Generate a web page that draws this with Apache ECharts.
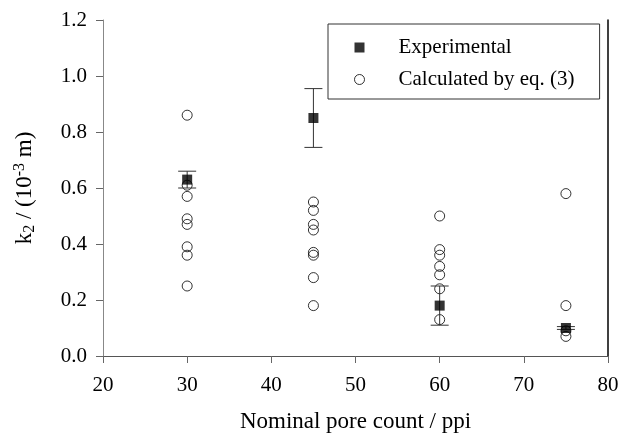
<!DOCTYPE html>
<html>
<head>
<meta charset="utf-8">
<script src="https://cdn.jsdelivr.net/npm/echarts@6/dist/echarts.min.js"></script>
<style>
  html, body { margin: 0; padding: 0; background: #fff; }
  #chart { width: 629px; height: 435px; }
</style>
</head>
<body>
<div id="chart"></div>
<script>
// pore counts (ppi)
var poreCounts = [30, 45, 60, 75];

// experimental k2 with error bar limits
var expValues = [0.63, 0.85, 0.18, 0.10];
var expLow = [0.60, 0.745, 0.11, 0.095];
var expHigh = [0.66, 0.955, 0.25, 0.105];

// calculated by eq. (3), one list per pore count
var calc30 = [0.86, 0.61, 0.57, 0.49, 0.47, 0.39, 0.36, 0.25];
var calc45 = [0.55, 0.52, 0.47, 0.45, 0.37, 0.36, 0.28, 0.18];
var calc60 = [0.50, 0.38, 0.36, 0.32, 0.29, 0.24, 0.13];
var calc75 = [0.58, 0.18, 0.09, 0.07];

var font = 'Liberation Serif';

var calcData = [];
[calc30, calc45, calc60, calc75].forEach(function (list, i) {
  list.forEach(function (v) {
    calcData.push([poreCounts[i], v]);
  });
});

var expData = poreCounts.map(function (x, i) { return [x, expValues[i]]; });
var errData = poreCounts.map(function (x, i) { return [x, expLow[i], expHigh[i]]; });

var chart = echarts.init(document.getElementById('chart'));

chart.setOption({
  animation: false,
  backgroundColor: '#fff',
  grid: { left: 103, right: 21, top: 20, bottom: 79, outerBoundsMode: 'none', containLabel: false },
  legend: {
    orient: 'vertical',
    left: 328,
    top: 24,
    padding: [13, 25, 9, 26],
    itemGap: 11,
    itemWidth: 10,
    itemHeight: 10,
    borderColor: '#333',
    borderWidth: 1,
    borderRadius: 0,
    textStyle: { fontFamily: font, fontSize: 21, color: '#000', padding: [0, 0, 0, 29] },
    data: [
      { name: 'Experimental', icon: 'rect' },
      { name: 'Calculated by eq. (3)', icon: 'circle', itemStyle: { color: '#fff', borderColor: '#000', borderWidth: 1 } }
    ]
  },
  xAxis: [{
    type: 'value',
    min: 20,
    max: 80,
    interval: 10,
    name: 'Nominal pore count / ppi',
    nameLocation: 'middle',
    nameGap: 54,
    nameTextStyle: { fontFamily: font, fontSize: 23, color: '#000' },
    axisLine: { lineStyle: { color: '#888', width: 1 } },
    axisTick: { show: true, length: 7, lineStyle: { color: '#666' } },
    axisLabel: { fontFamily: font, fontSize: 21, color: '#000', margin: 19 },
    splitLine: { show: false }
  }, {
    type: 'value',
    position: 'top',
    min: 20,
    max: 80,
    axisLine: { show: true, lineStyle: { color: '#555', width: 1 } },
    axisTick: { show: false },
    axisLabel: { show: false },
    splitLine: { show: false }
  }],
  yAxis: [{
    type: 'value',
    min: 0,
    max: 1.2,
    interval: 0.2,
    name: 'k{sub|2} / (10{sup|-3} m)',
    nameLocation: 'middle',
    nameGap: 65,
    nameTextStyle: {
      fontFamily: font, fontSize: 23, color: '#000',
      rich: {
        sub: { fontFamily: font, fontSize: 16, color: '#000', verticalAlign: 'bottom', padding: [10, 0, 0, 0] },
        sup: { fontFamily: font, fontSize: 16, color: '#000', verticalAlign: 'top', padding: [0, 0, 10, 0] }
      }
    },
    axisLine: { show: true, lineStyle: { color: '#888', width: 1 } },
    axisTick: { show: true, length: 7, lineStyle: { color: '#666' } },
    axisLabel: {
      fontFamily: font, fontSize: 21, color: '#000', margin: 16,
      formatter: function (v) { return v.toFixed(1); }
    },
    splitLine: { show: false }
  }, {
    type: 'value',
    position: 'right',
    min: 0,
    max: 1.2,
    axisLine: { show: true, lineStyle: { color: '#000', width: 1.5 } },
    axisTick: { show: false },
    axisLabel: { show: false },
    splitLine: { show: false }
  }],
  series: [{
    name: 'Calculated by eq. (3)',
    type: 'scatter',
    symbol: 'circle',
    symbolSize: 10,
    itemStyle: { color: 'rgba(255,255,255,0)', borderColor: '#000', borderWidth: 1 },
    data: calcData,
    z: 3
  }, {
    name: 'Experimental error',
    type: 'custom',
    renderItem: function (params, api) {
      var x = api.value(0);
      var lo = api.coord([x, api.value(1)]);
      var hi = api.coord([x, api.value(2)]);
      var half = 9;
      var style = { stroke: '#333', lineWidth: 1 };
      return {
        type: 'group',
        children: [
          { type: 'line', shape: { x1: lo[0], y1: lo[1], x2: hi[0], y2: hi[1] }, style: style },
          { type: 'line', shape: { x1: lo[0] - half, y1: lo[1], x2: lo[0] + half, y2: lo[1] }, style: style },
          { type: 'line', shape: { x1: hi[0] - half, y1: hi[1], x2: hi[0] + half, y2: hi[1] }, style: style }
        ]
      };
    },
    encode: { x: 0, y: [1, 2] },
    data: errData,
    z: 4
  }, {
    name: 'Experimental',
    type: 'scatter',
    symbol: 'rect',
    symbolSize: 10,
    itemStyle: { color: '#000' },
    data: expData,
    z: 5
  }]
});
</script>
</body>
</html>
